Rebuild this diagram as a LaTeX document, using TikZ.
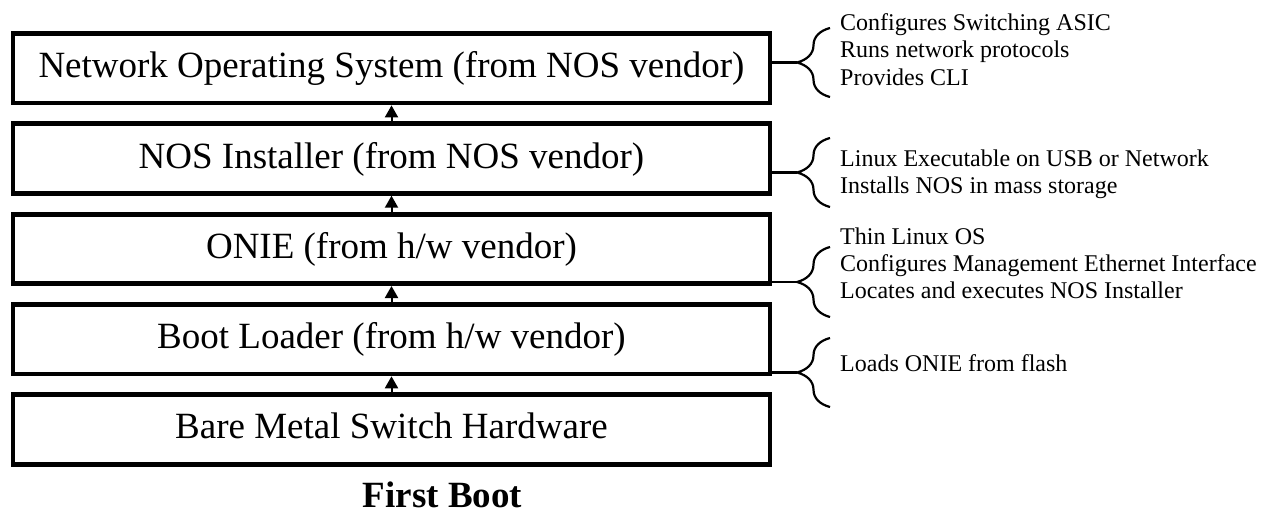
\documentclass[tikz,border=0pt]{standalone}
\usepackage{fontspec}
\setmainfont{Liberation Serif}
\usetikzlibrary{arrows.meta,decorations.pathreplacing}
\begin{document}
\begin{tikzpicture}[x=1pt,y=1pt,
  layer/.style={draw,line width=4.8pt,minimum width=757pt,minimum height=69.5pt,inner sep=0pt,
    font=\fontsize{37}{40}\selectfont,text height=26pt,text depth=7pt},
  up/.style={-{Triangle[width=13pt,length=12pt]},line width=2pt},
  stub/.style={line width=2.5pt},
  brc/.style={decorate,decoration={brace,amplitude=33pt},line width=2.2pt},
  note/.style={anchor=base west,inner sep=0pt,font=\fontsize{24}{27}\selectfont},
]
\useasboundingbox (0,0) rectangle (1261,-514);
\node[layer] (b1) at (391.5,-68.25) {Network Operating System (from NOS vendor)};
\node[layer] (b2) at (391.5,-158.55) {NOS Installer (from NOS vendor)};
\node[layer] (b3) at (391.5,-248.85) {ONIE (from h/w vendor)};
\node[layer] (b4) at (391.5,-339.15) {Boot Loader (from h/w vendor)};
\node[layer] (b5) at (391.5,-429.45) {Bare Metal Switch Hardware};
\foreach \a/\b in {b2/b1,b3/b2,b4/b3,b5/b4} \draw[up] (\a.north) -- (\b.south);

\coordinate (k1t) at (830,-28);  \coordinate (k1b) at (830,-97);  \coordinate (k1) at (797,-62.5);
\coordinate (k2t) at (830,-138); \coordinate (k2b) at (830,-207); \coordinate (k2) at (797,-172.5);
\coordinate (k3t) at (830,-247); \coordinate (k3b) at (830,-317); \coordinate (k3) at (797,-282);
\coordinate (k4t) at (830,-338); \coordinate (k4b) at (830,-407); \coordinate (k4) at (797,-372.5);
\foreach \i in {1,2,3,4} {
  \draw[brc] (k\i b) -- (k\i t);
  \draw[stub] (b\i.east |- k\i) -- (k\i);
}

\node[note] (n1a) at (840,-30)  {Configures Switching ASIC};
\node[note] (n1b) at (840,-57.5) {Runs network protocols};
\node[note] (n1c) at (840,-85)  {Provides CLI};
\node[note] (n2a) at (840,-166) {Linux Executable on USB or Network};
\node[note] (n2b) at (840,-193.5) {Installs NOS in mass storage};
\node[note] (n3a) at (840,-244) {Thin Linux OS};
\node[note] (n3b) at (840,-271) {Configures Management Ethernet Interface};
\node[note] (n3c) at (840,-298) {Locates and executes NOS Installer};
\node[note] (n4a) at (840,-371) {Loads ONIE from flash};

\node[anchor=base,inner sep=0pt,font=\fontsize{37}{40}\selectfont\bfseries] (title) at (442.5,-507) {First Boot};
\end{tikzpicture}
\end{document}
